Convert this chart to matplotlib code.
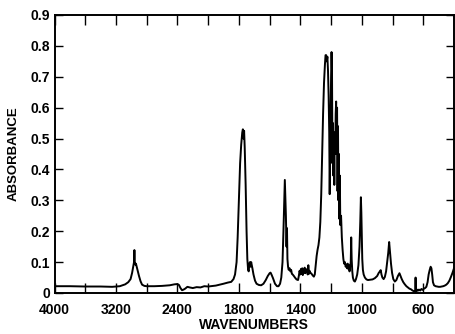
import numpy as np
import matplotlib
matplotlib.use("Agg")
import matplotlib.pyplot as plt

plt.rcParams['font.family'] = ['Liberation Sans', 'DejaVu Sans']

# Spectrum, in four segments: wavenumber (cm-1) / absorbance
wn_high = [4000, 3800, 3600, 3400, 3250, 3150, 3080, 3040, 3010, 2990,
           2975, 2965, 2960, 2955, 2948, 2940, 2930, 2915, 2900, 2880,
           2860, 2830, 2800, 2700, 2600, 2500, 2440, 2400, 2380, 2360,
           2340, 2320, 2300, 2270, 2240, 2200, 2150, 2100, 2050, 2000]
ab_high = [0.022, 0.022, 0.021, 0.021, 0.020, 0.022, 0.028, 0.035, 0.045, 0.065,
           0.085, 0.100, 0.139, 0.100, 0.092, 0.095, 0.085, 0.070, 0.055, 0.038,
           0.027, 0.023, 0.022, 0.022, 0.023, 0.025, 0.028, 0.029, 0.026, 0.016,
           0.009, 0.011, 0.014, 0.020, 0.018, 0.016, 0.019, 0.018, 0.022, 0.021]

wn_mid = [1950, 1900, 1870, 1850, 1835, 1825, 1815, 1808, 1800, 1792,
          1785, 1778, 1774, 1770, 1766, 1762, 1756, 1750, 1745, 1740,
          1736, 1732, 1728, 1724, 1720, 1716, 1712, 1705, 1695, 1685,
          1670, 1655, 1640, 1625, 1612, 1600, 1594, 1588, 1578, 1565,
          1552, 1542, 1532, 1524, 1516, 1510, 1505, 1501, 1498, 1494,
          1490, 1487, 1484, 1480, 1476, 1470, 1465, 1460, 1455, 1450,
          1442, 1435, 1425, 1415, 1410, 1405, 1400, 1396, 1392, 1388]
ab_mid = [0.024, 0.030, 0.034, 0.036, 0.045, 0.060, 0.100, 0.180, 0.300, 0.420,
          0.480, 0.520, 0.530, 0.500, 0.525, 0.470, 0.350, 0.200, 0.110, 0.075,
          0.070, 0.095, 0.100, 0.085, 0.100, 0.090, 0.080, 0.060, 0.040, 0.030,
          0.026, 0.025, 0.030, 0.042, 0.055, 0.064, 0.066, 0.060, 0.048, 0.030,
          0.022, 0.022, 0.030, 0.050, 0.100, 0.200, 0.300, 0.366, 0.320, 0.250,
          0.150, 0.210, 0.110, 0.085, 0.075, 0.080, 0.070, 0.075, 0.062, 0.060,
          0.055, 0.050, 0.044, 0.042, 0.055, 0.072, 0.060, 0.078, 0.062, 0.080]

wn_fp = [1384, 1380, 1376, 1372, 1368, 1364, 1360, 1356, 1352, 1348,
         1344, 1340, 1336, 1330, 1324, 1318, 1312, 1306, 1300, 1294,
         1288, 1282, 1276, 1270, 1264, 1258, 1252, 1246, 1240, 1236,
         1232, 1228, 1224, 1220, 1216, 1212, 1209, 1206, 1203, 1200,
         1197, 1194, 1191, 1188, 1185, 1182, 1179, 1176, 1173, 1170,
         1167, 1164, 1161, 1158, 1155, 1152, 1149, 1146, 1143, 1140,
         1135, 1130, 1125, 1120, 1115, 1110, 1105, 1100, 1096, 1092,
         1088, 1084, 1080, 1076, 1072, 1069, 1066, 1062, 1058, 1052,
         1045, 1038, 1030, 1022, 1015, 1010, 1006, 1003, 1000, 997]
ab_fp = [0.058, 0.075, 0.066, 0.082, 0.064, 0.078, 0.068, 0.074, 0.060, 0.090,
         0.062, 0.072, 0.065, 0.064, 0.060, 0.056, 0.053, 0.060, 0.090, 0.120,
         0.140, 0.155, 0.180, 0.230, 0.320, 0.450, 0.580, 0.680, 0.740, 0.770,
         0.770, 0.750, 0.765, 0.720, 0.640, 0.520, 0.320, 0.450, 0.600, 0.700,
         0.780, 0.720, 0.420, 0.550, 0.380, 0.500, 0.350, 0.520, 0.450, 0.580,
         0.620, 0.450, 0.600, 0.330, 0.540, 0.300, 0.450, 0.240, 0.380, 0.220,
         0.250, 0.180, 0.140, 0.110, 0.095, 0.100, 0.085, 0.092, 0.080, 0.095,
         0.078, 0.090, 0.070, 0.085, 0.100, 0.180, 0.110, 0.070, 0.050, 0.040,
         0.037, 0.045, 0.060, 0.090, 0.150, 0.230, 0.310, 0.260, 0.180, 0.110]

wn_low = [993, 988, 980, 970, 960, 945, 930, 915, 900, 890,
          882, 877, 872, 866, 858, 850, 842, 835, 828, 822,
          817, 810, 803, 795, 785, 775, 765, 755, 748, 740,
          730, 720, 710, 700, 690, 680, 670, 662, 656, 652,
          650, 648, 644, 636, 628, 620, 612, 604, 596, 588,
          580, 572, 565, 558, 552, 547, 542, 537, 530, 520,
          510, 500, 490, 480, 470, 460, 450, 440, 430, 420,
          410, 400]
ab_low = [0.075, 0.060, 0.050, 0.044, 0.042, 0.043, 0.044, 0.048, 0.055, 0.065,
          0.070, 0.074, 0.060, 0.050, 0.045, 0.052, 0.070, 0.100, 0.130, 0.165,
          0.135, 0.095, 0.065, 0.045, 0.037, 0.042, 0.055, 0.064, 0.055, 0.045,
          0.035, 0.028, 0.022, 0.018, 0.014, 0.012, 0.008, 0.006, 0.005, 0.005,
          0.050, 0.004, 0.012, 0.007, 0.011, 0.008, 0.013, 0.010, 0.014, 0.016,
          0.020, 0.035, 0.060, 0.075, 0.085, 0.080, 0.060, 0.035, 0.025, 0.022,
          0.021, 0.020, 0.020, 0.021, 0.022, 0.024, 0.027, 0.032, 0.040, 0.052,
          0.065, 0.080]

xticks = [4000, 3600, 3200, 2800, 2400, 2000, 1800, 1600, 1400, 1200, 1000, 800, 600]
xtick_labels = ['4000', '', '3200', '', '2400', '', '1800', '', '1400', '', '1000', '', '600']
yticks = [0, 0.1, 0.2, 0.3, 0.4, 0.5, 0.6, 0.7, 0.8, 0.9]
ytick_labels = ['0', '0.1', '0.2', '0.3', '0.4', '0.5', '0.6', '0.7', '0.8', '0.9']

wavenumber = wn_high + wn_mid + wn_fp + wn_low
absorbance = ab_high + ab_mid + ab_fp + ab_low


# increasing piecewise-linear scale: 400 cm-1 per division above 2000, 200 below
def fwd(w):
    w = np.asarray(w, dtype=float)
    return -np.where(w >= 2000, (4000 - w) / 400.0, 5 + (2000 - w) / 200.0)


def inv(u):
    u = -np.asarray(u, dtype=float)
    return np.where(u <= 5, 4000 - 400.0 * u, 2000 - 200.0 * (u - 5))


fig = plt.figure(figsize=(4.55, 3.34), dpi=100)
ax = fig.add_axes([54.5 / 455, (334 - 293) / 334, (454 - 54.5) / 455, (293 - 15) / 334])
ax.set_xscale('function', functions=(fwd, inv))
ax.plot(wavenumber, absorbance, color='black', lw=1.4)
ax.set_xlim(4000, 400)
ax.set_ylim(0, 0.9)
ax.set_xticks(xticks)
ax.set_xticklabels(xtick_labels)
ax.set_yticks(yticks)
ax.set_yticklabels(ytick_labels)
ax.minorticks_off()
ax.tick_params(axis='x', direction='in', length=7, width=1.0, top=True, bottom=True,
               labelsize=10, pad=7)
ax.tick_params(axis='y', direction='in', length=6, width=1.0, left=True, right=True,
               labelsize=10, pad=3)
for lab in ax.get_xticklabels() + ax.get_yticklabels():
    lab.set_fontweight('bold')
for s in ax.spines.values():
    s.set_linewidth(1.4)
ax.set_xlabel('WAVENUMBERS', fontsize=10, fontweight='bold', labelpad=1)
ax.set_ylabel('ABSORBANCE', fontsize=9.5, fontweight='bold', labelpad=8)

fig.savefig('out.png', dpi=100)
